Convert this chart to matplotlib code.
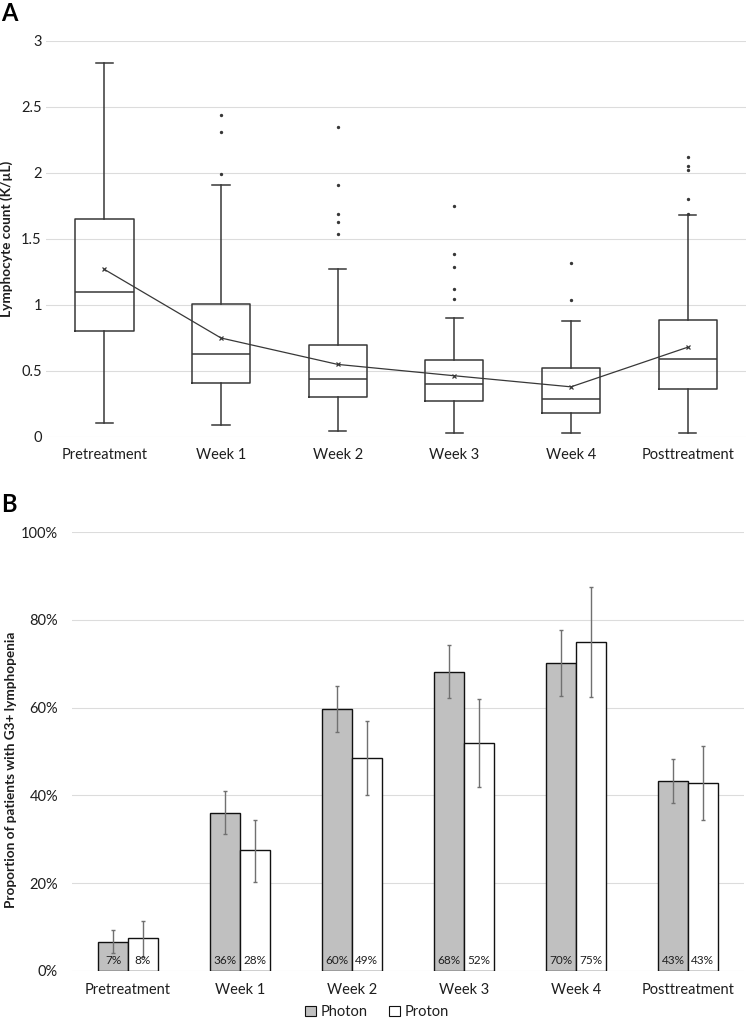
import matplotlib
matplotlib.use("Agg")
import matplotlib.pyplot as plt
from matplotlib.patches import Patch
from matplotlib.ticker import FuncFormatter

plt.rcParams['font.family'] = ['Lato', 'DejaVu Sans']

# ---------------- Data: panel A ----------------
categories = ["Pretreatment", "Week 1", "Week 2", "Week 3", "Week 4", "Posttreatment"]
whisker_low = [0.106, 0.088, 0.048, 0.027, 0.027, 0.027]
q1 = [0.80, 0.41, 0.305, 0.273, 0.18, 0.36]
median = [1.10, 0.63, 0.44, 0.40, 0.29, 0.59]
q3 = [1.65, 1.007, 0.70, 0.583, 0.52, 0.89]
whisker_high = [2.83, 1.91, 1.27, 0.90, 0.88, 1.68]
mean = [1.27, 0.75, 0.55, 0.464, 0.38, 0.68]
outliers = [
    [],
    [2.44, 2.31, 1.995],
    [2.345, 1.91, 1.69, 1.63, 1.54],
    [1.75, 1.39, 1.29, 1.12, 1.048],
    [1.32, 1.04],
    [2.12, 2.055, 2.02, 1.80, 1.69],
]

# ---------------- Data: panel B ----------------
photon = [0.067, 0.361, 0.596, 0.682, 0.702, 0.433]
proton = [0.075, 0.275, 0.485, 0.519, 0.749, 0.428]
photon_lo = [0.042, 0.313, 0.544, 0.621, 0.626, 0.383]
photon_hi = [0.093, 0.410, 0.649, 0.742, 0.776, 0.484]
proton_lo = [0.033, 0.203, 0.400, 0.418, 0.624, 0.344]
proton_hi = [0.115, 0.345, 0.570, 0.619, 0.874, 0.512]
photon_labels = ["7%", "36%", "60%", "68%", "70%", "43%"]
proton_labels = ["8%", "28%", "49%", "52%", "75%", "43%"]
series_names = ["Photon", "Proton"]

W, H = 750, 1026
fig = plt.figure(figsize=(W / 100, H / 100), dpi=100)

grid_color = "#dcdcdc"
text_color = "#1e1e1e"
line_color = "#383838"

# ---------------- Panel A ----------------
axA = fig.add_axes([46 / W, 1 - 437 / H, 700 / W, 396 / H])
stats = []
for i, c in enumerate(categories):
    stats.append(dict(label=c, whislo=whisker_low[i], q1=q1[i], med=median[i],
                      q3=q3[i], whishi=whisker_high[i], mean=mean[i], fliers=outliers[i]))
pos = list(range(len(categories)))
axA.bxp(stats, positions=pos, widths=0.5, showmeans=False, showfliers=True,
        boxprops=dict(color=line_color, linewidth=1.1),
        medianprops=dict(color=line_color, linewidth=1.1),
        whiskerprops=dict(color=line_color, linewidth=1.1),
        capprops=dict(color=line_color, linewidth=1.1),
        capwidths=0.15,
        flierprops=dict(marker="o", markersize=1.4, markerfacecolor=line_color,
                        markeredgecolor=line_color, linestyle="none"))
axA.plot(pos, mean, color=line_color, linewidth=0.9, marker="x", markersize=3,
         markeredgewidth=0.9, zorder=5)
axA.set_xlim(-0.5, len(categories) - 0.5)
axA.set_ylim(0, 3)
axA.set_yticks([0, 0.5, 1, 1.5, 2, 2.5, 3])
axA.set_yticklabels(["0", "0.5", "1", "1.5", "2", "2.5", "3"])
axA.set_xticks(pos)
axA.set_xticklabels(categories)
axA.yaxis.grid(True, color=grid_color, linewidth=0.8)
axA.set_axisbelow(True)
for s in axA.spines.values():
    s.set_visible(False)
axA.tick_params(axis="both", length=0, labelsize=10.5, colors=text_color)
axA.tick_params(axis="x", pad=8)
axA.tick_params(axis="y", pad=3)
axA.set_ylabel("Lymphocyte count (K/µL)", fontsize=9.8, fontweight="bold",
               color=text_color)
axA.yaxis.set_label_coords((13 - 46) / 700, 0.5)
fig.text(1 / W, 1 - 14 / H, "A", fontsize=17, fontweight="bold", va="center", ha="left")

# ---------------- Panel B ----------------
b_top, b_bot = 532, 971
axB = fig.add_axes([72 / W, 1 - b_bot / H, 672 / W, (b_bot - b_top) / H])
n = len(categories)
bw = 0.265
xs = list(range(n))
x_ph = [x - bw / 2 for x in xs]
x_pr = [x + bw / 2 for x in xs]
axB.bar(x_ph, photon, width=bw, color="#c0c0c0", edgecolor="#111111", linewidth=1.0,
        label=series_names[0], zorder=3)
axB.bar(x_pr, proton, width=bw, color="white", edgecolor="#111111", linewidth=1.0,
        label=series_names[1], zorder=3)
err_ph = [[p - l for p, l in zip(photon, photon_lo)], [h - p for p, h in zip(photon, photon_hi)]]
err_pr = [[p - l for p, l in zip(proton, proton_lo)], [h - p for p, h in zip(proton, proton_hi)]]
axB.errorbar(x_ph, photon, yerr=err_ph, fmt="none", ecolor="#707070", elinewidth=1.0,
             capsize=1.5, capthick=1.0, zorder=4)
axB.errorbar(x_pr, proton, yerr=err_pr, fmt="none", ecolor="#707070", elinewidth=1.0,
             capsize=1.5, capthick=1.0, zorder=4)
for i in range(n):
    axB.text(x_ph[i], 0.011, photon_labels[i], ha="center", va="bottom", fontsize=8.5,
             color=text_color, zorder=5)
    axB.text(x_pr[i], 0.011, proton_labels[i], ha="center", va="bottom", fontsize=8.5,
             color=text_color, zorder=5)
axB.set_xlim(-0.5, n - 0.5)
axB.set_ylim(0, 1)
axB.set_yticks([0, 0.2, 0.4, 0.6, 0.8, 1.0])
axB.yaxis.set_major_formatter(FuncFormatter(lambda v, p: f"{v * 100:.0f}%"))
axB.set_xticks(xs)
axB.set_xticklabels(categories)
axB.yaxis.grid(True, color=grid_color, linewidth=0.8, zorder=0)
axB.set_axisbelow(True)
for s in axB.spines.values():
    s.set_visible(False)
axB.tick_params(axis="both", length=0, labelsize=10.5, colors=text_color)
axB.tick_params(axis="x", pad=9)
axB.tick_params(axis="y", pad=10)
axB.set_ylabel("Proportion of patients with G3+ lymphopenia", fontsize=9.8,
               fontweight="bold", color=text_color)
axB.yaxis.set_label_coords((17 - 72) / 672, (b_bot - 770) / (b_bot - b_top))
fig.text(1 / W, 1 - 504 / H, "B", fontsize=17, fontweight="bold", va="center", ha="left")

handles = [Patch(facecolor="#c0c0c0", edgecolor="#111111", linewidth=0.8),
           Patch(facecolor="white", edgecolor="#111111", linewidth=0.8)]
fig.legend(handles, series_names, loc="center", bbox_to_anchor=(377 / W, 1 - 1012 / H),
           ncol=2, frameon=False, fontsize=10.5, handlelength=0.75, handleheight=0.75,
           handletextpad=0.3, columnspacing=1.5, labelcolor=text_color,
           borderpad=0, borderaxespad=0)

fig.savefig("out.png", dpi=100)
